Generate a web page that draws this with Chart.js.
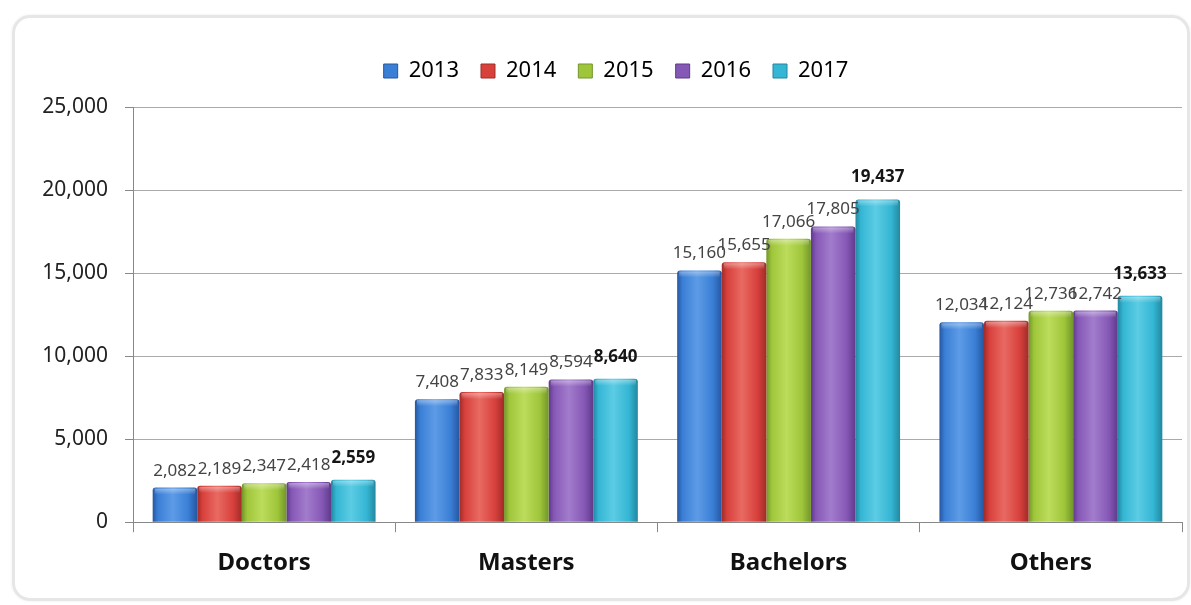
<!DOCTYPE html>
<html>
<head>
<meta charset="utf-8">
<script src="https://cdn.jsdelivr.net/npm/chart.js@4.4.1/dist/chart.umd.min.js"></script>
<style>
  html, body { margin: 0; padding: 0; background: #fff; }
  #wrap { position: relative; width: 1191px; height: 605px; overflow: hidden; }
  #frame {
    position: absolute; left: 12px; top: 15px; width: 1172px; height: 580px;
    border: 3px solid #e6e6e6; border-radius: 18px; box-shadow: 0 0 3px #eee;
  }
  #chart { position: absolute; left: 0; top: 0; }
</style>
</head>
<body>
<div id="wrap">
  <div id="frame"></div>
  <canvas id="chart" width="1191" height="605"></canvas>
</div>
<script>
// categorias y valores por año
var categorias = ['Doctors', 'Masters', 'Bachelors', 'Others'];
var anios = ['2013', '2014', '2015', '2016', '2017'];
var v2013 = [2082, 7408, 15160, 12034];
var v2014 = [2189, 7833, 15655, 12124];
var v2015 = [2347, 8149, 17066, 12736];
var v2016 = [2418, 8594, 17805, 12742];
var v2017 = [2559, 8640, 19437, 13633];
var ticksY = [0, 5000, 10000, 15000, 20000, 25000];

// color base, borde oscuro, brillo
var colores = [
    ['#3a7fd6', '#2656a0', '#5d9be6'],
    ['#d8403c', '#a02c28', '#e86a62'],
    ['#9fc63a', '#72962a', '#bcdc5c'],
    ['#8658b6', '#5e3a8c', '#a27ccc'],
    ['#34b6d4', '#22889f', '#5ccce4']
];

function fmt(n) {
    return n.toLocaleString('en-US');
}

// leyenda un poco mas arriba y a la derecha del centro
var moverLeyenda = {
    id: 'moverLeyenda',
    afterLayout: function(chart) {
        var l = chart.legend;
        l.left += 11;
        l.right += 11;
        l.top -= 15;
        l.bottom -= 15;
    }
};

// degradado horizontal para que las barras se vean con relieve
var barras3d = {
    id: 'barras3d',
    beforeDatasetsDraw: function(chart) {
        var ctx = chart.ctx;
        chart.data.datasets.forEach(function(ds, i) {
            var c = colores[i];
            chart.getDatasetMeta(i).data.forEach(function(bar) {
                var x0 = bar.x - bar.width / 2;
                var g = ctx.createLinearGradient(x0, 0, x0 + bar.width, 0);
                g.addColorStop(0, c[1]);
                g.addColorStop(0.12, c[0]);
                g.addColorStop(0.45, c[2]);
                g.addColorStop(0.8, c[0]);
                g.addColorStop(1, c[1]);
                bar.options.backgroundColor = g;
            });
        });
    },
    afterDatasetsDraw: function(chart) {
        var ctx = chart.ctx;
        ctx.save();
        chart.data.datasets.forEach(function(ds, i) {
            chart.getDatasetMeta(i).data.forEach(function(bar) {
                var x0 = bar.x - bar.width / 2 + 2;
                var w = bar.width - 4;
                var g = ctx.createLinearGradient(0, bar.y, 0, bar.y + 7);
                g.addColorStop(0, 'rgba(255,255,255,0.45)');
                g.addColorStop(1, 'rgba(255,255,255,0)');
                ctx.fillStyle = g;
                ctx.fillRect(x0, bar.y + 1, w, 7);
            });
        });
        ctx.restore();
    }
};

// etiquetas de valor encima de cada barra
var etiquetas = {
    id: 'etiquetas',
    afterDatasetsDraw: function(chart) {
        var ctx = chart.ctx;
        ctx.save();
        ctx.textAlign = 'center';
        ctx.textBaseline = 'alphabetic';
        chart.data.datasets.forEach(function(ds, i) {
            var ultimo = i === chart.data.datasets.length - 1;
            ctx.font = (ultimo ? 'bold ' : '') + '17px "Noto Sans"';
            ctx.fillStyle = ultimo ? '#151515' : '#444';
            chart.getDatasetMeta(i).data.forEach(function(bar, j) {
                ctx.fillText(fmt(ds.data[j]), bar.x, bar.y - (ultimo ? 17 : 12));
            });
        });
        ctx.restore();
    }
};

var series = [v2013, v2014, v2015, v2016, v2017];

new Chart(document.getElementById('chart'), {
    type: 'bar',
    data: {
        labels: categorias,
        datasets: series.map(function(d, i) {
            return {
                label: anios[i],
                data: d,
                // funcion para que cada barra tenga sus propias opciones
                backgroundColor: function() { return colores[i][0]; },
                borderWidth: 0,
                borderRadius: { topLeft: 3, topRight: 3 },
                borderSkipped: 'bottom',
                categoryPercentage: 0.85,
                barPercentage: 1.0
            };
        })
    },
    options: {
        responsive: false,
        animation: false,
        events: [],
        layout: { padding: { left: 28, right: 9, top: 53, bottom: 10 } },
        plugins: {
            tooltip: { enabled: false },
            legend: {
                position: 'top',
                labels: {
                    boxWidth: 14,
                    boxHeight: 14,
                    padding: 22,
                    color: '#222',
                    font: { family: '"Noto Sans"', size: 22 },
                    generateLabels: function(chart) {
                        return chart.data.datasets.map(function(ds, i) {
                            return {
                                text: ds.label,
                                fillStyle: colores[i][0],
                                strokeStyle: colores[i][1],
                                lineWidth: 1,
                                datasetIndex: i
                            };
                        });
                    }
                }
            }
        },
        scales: {
            x: {
                offset: true,
                grid: {
                    offset: true,
                    drawOnChartArea: false,
                    drawTicks: true,
                    tickLength: 10,
                    color: '#888'
                },
                border: { color: '#888', width: 1 },
                ticks: {
                    padding: 17,
                    color: '#111',
                    font: { family: '"Noto Sans"', size: 24, weight: 'bold' }
                }
            },
            y: {
                min: 0,
                max: 25000,
                afterFit: function(scale) { scale.width = 105; },
                afterBuildTicks: function(scale) {
                    scale.ticks = ticksY.map(function(v) { return { value: v }; });
                },
                grid: {
                    color: '#aaa',
                    tickLength: 8,
                    tickColor: '#888'
                },
                border: { color: '#888', width: 1 },
                ticks: {
                    padding: 17,
                    color: '#222',
                    font: { family: '"Noto Sans"', size: 21 },
                    callback: function(v) { return fmt(v); }
                }
            }
        }
    },
    plugins: [moverLeyenda, barras3d, etiquetas]
});
</script>
</body>
</html>
